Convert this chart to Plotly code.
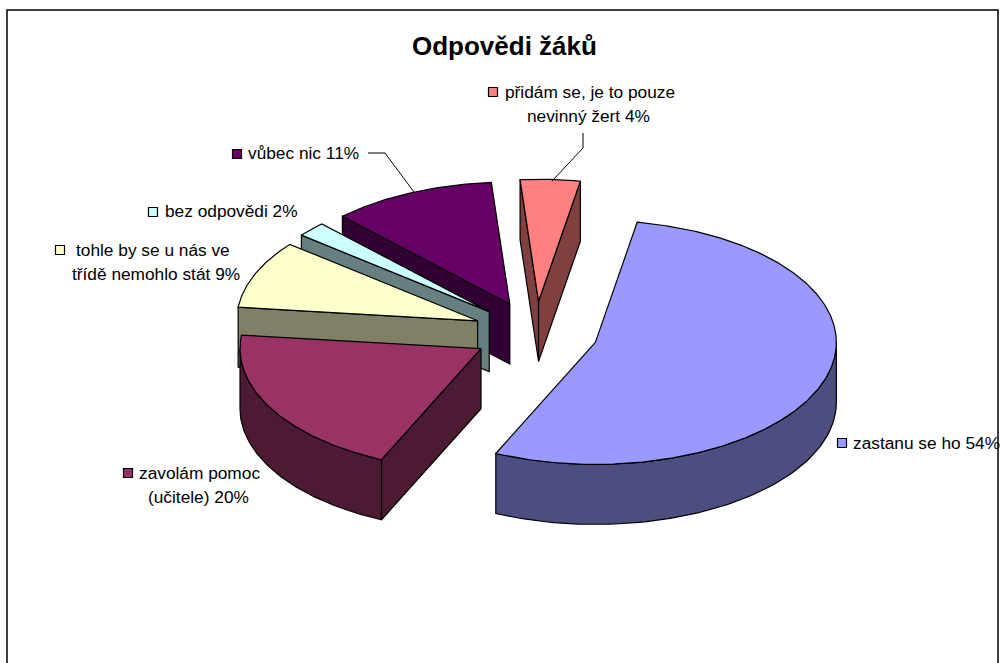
import numpy as np
import plotly.graph_objects as go

title = "Odpovědi žáků"
categories = ["zastanu se ho", "zavolám pomoc\n(učitele)", "tohle by se u nás ve\ntřídě nemohlo stát",
              "bez odpovědi", "vůbec nic", "přidám se, je to pouze\nnevinný žert"]
values = [54, 20, 9, 2, 11, 4]
top_colors = ["#9999FF", "#993366", "#FFFFCC", "#CCFFFF", "#660066", "#FF8080"]
side_colors = ["#4D4D80", "#4D1A33", "#808066", "#668080", "#330033", "#804040"]

# Projection of the tilted pie onto the page
CX, CY, RX, RY, DEPTH, EXPLODE, START = 535.5, 333.0, 241.0, 122.0, 60.0, 0.26, 10.0
# Label layout: key centre, then left edge and centre height of each text line
key_pos = [(842, 443), (128, 473), (60, 250), (153, 212), (237, 154), (493, 92)]
line_pos = [[(853, 443)], [(139, 473), (148, 497)], [(76, 250), (72, 274)],
            [(165, 211)], [(248, 153)], [(505, 92), (527, 116)]]
# Leader-line paths of the two labels that have one
leaders = {4: [(368, 153), (385, 153), (414, 192)], 5: [(583, 133), (583, 148), (552, 181)]}


def point(ang, ox, oy, dz=0.0):
    a = np.radians(ang)
    return ox + RX * np.sin(a), oy - RY * np.cos(a) + dz


def poly(fig, xs, ys, fill, width=1.2):
    fig.add_trace(go.Scatter(x=list(xs), y=list(ys), mode="lines", fill="toself", fillcolor=fill,
                             line=dict(color="black", width=width), hoverinfo="skip", showlegend=False))


def faces_viewer(normal_angle):
    return -np.cos(np.radians(normal_angle)) > 0


fig = go.Figure()

total = sum(values)
bounds = START + np.concatenate([[0], np.cumsum(values)]) / total * 360
slices = []
for i, v in enumerate(values):
    a0, a1 = bounds[i], bounds[i + 1]
    mid = np.radians((a0 + a1) / 2)
    ox = CX + EXPLODE * RX * np.sin(mid)
    oy = CY - EXPLODE * RY * np.cos(mid)
    slices.append((i, a0, a1, ox, oy))

# Paint from the back of the pie to the front
for i, a0, a1, ox, oy in sorted(slices, key=lambda s: s[4]):
    for ang, normal in ((a0, a0 - 90), (a1, a1 + 90)):
        if faces_viewer(normal):
            ex, ey = point(ang, ox, oy)
            poly(fig, [ox, ex, ex, ox, ox], [oy, ey, ey + DEPTH, oy + DEPTH, oy], side_colors[i])
    lo, hi = max(a0, 90), min(a1, 270)
    if lo < hi:
        t = np.linspace(lo, hi, 80)
        x, y = point(t, ox, oy)
        poly(fig, np.r_[x, x[::-1], x[0]], np.r_[y, y[::-1] + DEPTH, y[0]], side_colors[i])
    t = np.linspace(a0, a1, max(int(a1 - a0) * 2, 12))
    x, y = point(t, ox, oy)
    poly(fig, np.r_[ox, x, ox], np.r_[oy, y, oy], top_colors[i])

for i, path in leaders.items():
    fig.add_trace(go.Scatter(x=[p[0] for p in path], y=[p[1] for p in path], mode="lines",
                             line=dict(color="black", width=1), hoverinfo="skip", showlegend=False))

for i, name in enumerate(categories):
    fig.add_trace(go.Scatter(x=[key_pos[i][0]], y=[key_pos[i][1]], mode="markers",
                             marker=dict(symbol="square", size=9, color=top_colors[i],
                                         line=dict(color="black", width=1.2)),
                             hoverinfo="skip", showlegend=False))
    lines = f"{name} {values[i]}%".split("\n")
    for text, (lx, ly) in zip(lines, line_pos[i]):
        fig.add_annotation(x=lx, y=ly, text=text, showarrow=False, xanchor="left", yanchor="middle",
                           xshift=-2, font=dict(family="Liberation Sans", size=17.3, color="black"))

fig.add_annotation(x=504, y=46, text=f"<b>{title}</b>", showarrow=False, xanchor="center", yanchor="middle",
                   font=dict(family="Liberation Sans", size=26, color="black"))

fig.add_shape(type="rect", x0=7, y0=10, x1=998, y1=700, line=dict(color="black", width=1.5), layer="above")

fig.update_layout(width=1001, height=663, margin=dict(l=0, r=0, t=0, b=0), autosize=False,
                  paper_bgcolor="white", plot_bgcolor="white", showlegend=False,
                  xaxis=dict(range=[0, 1001], visible=False, fixedrange=True),
                  yaxis=dict(range=[663, 0], visible=False, fixedrange=True))
fig.write_html("out.html", post_script="document.body.style.margin='0';document.body.style.overflow='hidden';",
               config=dict(displayModeBar=False))
